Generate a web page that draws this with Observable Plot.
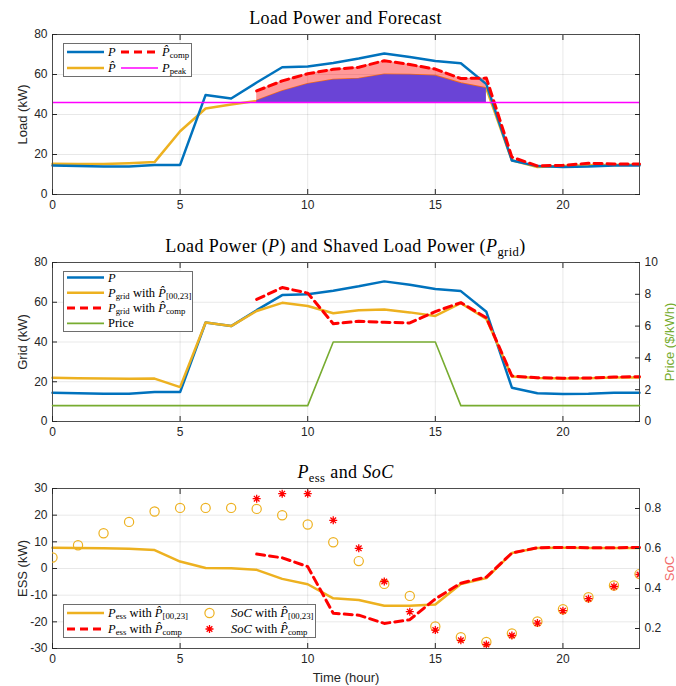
<!DOCTYPE html>
<html>
<head>
<meta charset="utf-8">
<script src="https://cdn.jsdelivr.net/npm/d3@7"></script>
<script src="https://cdn.jsdelivr.net/npm/@observablehq/plot@0.6"></script>
<style>
  body { margin: 0; background: #fff; }
  #root { position: relative; width: 676px; height: 686px; overflow: hidden; background: #fff; }
  .title { position: absolute; left: 52px; width: 587px; text-align: center; font-family: "Liberation Serif", "Times New Roman", serif; font-size: 18px; line-height: 18px; letter-spacing: 0.4px; color: #000; white-space: nowrap; }
  sub { font-size: 70%; vertical-align: -0.28em; line-height: 0; }
  .legend { position: absolute; background: #fff; border: 1px solid #6e6e6e; box-sizing: border-box; }
  .legend svg { position: absolute; left: 0; top: 0; overflow: visible; }
  .lt { position: absolute; font-family: "Liberation Serif", "Times New Roman", serif; font-size: 12.5px; line-height: 1; transform: translateY(-50%); white-space: nowrap; color: #000; }
  svg [aria-label="y-axis label"], svg [aria-label="x-axis label"] { font-size: 13px; }
  #price-axis [aria-label="y-axis label"] text { fill: #77AC30; }
  #soc-axis [aria-label="y-axis label"] text { fill: #F26B6B; }
</style>
</head>
<body>
<div id="root"></div>
<script>
// ---------------- data ----------------
const hours = [0,1,2,3,4,5,6,7,8,9,10,11,12,13,14,15,16,17,18,19,20,21,22,23];
const loadP = [14.5,14.2,14.0,14.0,14.8,14.8,49.8,48.0,56.0,63.6,64.0,65.8,68.0,70.5,68.8,66.7,65.6,55.2,17.0,14.2,13.8,14.0,14.5,14.5];
const loadForecast = [15.4,15.2,15.2,15.6,16.2,31.6,43.0,45.0,46.8,51.5,55.1,57.3,57.8,59.9,59.8,59.3,55.5,53.0,17.1,13.7,14.2,14.6,14.7,14.9];
const compHours = [8,9,10,11,12,13,14,15,16,17,18,19,20,21,22,23];
const loadComp = [51.8,56.8,60.4,62.6,63.6,66.9,65.0,62.7,58.0,58.2,18.7,14.3,14.6,15.6,15.3,15.3];
const peakPower = 46;
const shadeStart = 8, shadeEnd = 17;
const gridForecast = [22.0,21.8,21.6,21.5,21.6,17.3,49.8,48.0,55.6,59.7,58.1,54.5,56.0,56.4,54.9,53.1,59.5,51.6,22.7,21.9,21.6,21.7,22.2,22.1];
const gridComp = [61.4,67.4,64.6,49.2,50.4,49.9,49.6,55.3,59.8,52.2,22.9,22.0,21.8,21.9,22.4,22.5];
const price = [1,1,1,1,1,1,1,1,1,1,1,5,5,5,5,5,1,1,1,1,1,1,1,1];
const essForecast = [7.8,7.7,7.6,7.4,6.9,2.6,0.2,0.1,-0.5,-3.9,-5.9,-11.2,-11.8,-14.0,-14.0,-13.5,-5.8,-3.6,5.8,7.7,7.8,7.7,7.7,7.7];
const essComp = [5.4,4.0,0.7,-16.8,-17.5,-20.6,-19.2,-11.4,-5.5,-3.2,5.8,7.8,7.9,7.8,7.8,7.9];
const socForecast = [0.555,0.616,0.676,0.733,0.785,0.803,0.803,0.803,0.798,0.766,0.720,0.631,0.537,0.423,0.363,0.210,0.156,0.133,0.175,0.235,0.296,0.356,0.415,0.472];
const socComp = [0.849,0.874,0.874,0.741,0.601,0.435,0.284,0.192,0.141,0.120,0.165,0.227,0.289,0.349,0.410,0.470];

const xTicks = [0,5,10,15,20];
const loadTicks = [0,20,40,60,80];
const priceTicks = [0,2,4,6,8,10];
const essTicks = [-30,-20,-10,0,10,20,30];
const socTicks = [0.2,0.4,0.6,0.8];

// ---------------- tables ----------------
const rows = hours.map((h, i) => ({hour: h, load: loadP[i], forecast: loadForecast[i], grid: gridForecast[i], price: price[i], ess: essForecast[i], soc: socForecast[i]}));
const compRows = compHours.map((h, i) => ({hour: h, load: loadComp[i], grid: gridComp[i], ess: essComp[i], soc: socComp[i]}));
const shadeRows = compRows.filter(d => d.hour >= shadeStart && d.hour <= shadeEnd)
  .map(d => ({hour: d.hour, comp: d.load, forecast: loadForecast[hours.indexOf(d.hour)]}));

// ---------------- styling ----------------
const BLUE = "#0072BD", ORANGE = "#EDB120", RED = "#FF0000", MAGENTA = "#FF00FF", GREEN = "#77AC30";
const W = 676, ML = 52, MR = 37, MT = 10;
const root = document.getElementById("root");

// MATLAB-style '*' marker (plus and cross overlaid)
const starSymbol = {
  draw(ctx, size) {
    const r = Math.sqrt(size / Math.PI), s = r * Math.SQRT1_2;
    ctx.moveTo(-r, 0); ctx.lineTo(r, 0);
    ctx.moveTo(0, -r); ctx.lineTo(0, r);
    ctx.moveTo(-s, -s); ctx.lineTo(s, s);
    ctx.moveTo(-s, s); ctx.lineTo(s, -s);
  }
};

function common(height, mb) {
  return {
    width: W, height, marginLeft: ML, marginRight: MR, marginTop: MT, marginBottom: mb,
    style: {fontFamily: "'Liberation Sans', Arial, Helvetica, sans-serif", fontSize: "12px", color: "#262626", background: "transparent", overflow: "visible"}
  };
}
const gridStyle = {stroke: "#000", strokeOpacity: 0.09};
function xAxisMarks(label) {
  return [
    Plot.axisX(xTicks, {tickSize: -5, tickPadding: 11, label: label || null, labelAnchor: "center", labelOffset: 33, labelArrow: "none"}),
    Plot.axisX(xTicks, {anchor: "top", tickSize: -5, tickFormat: () => "", label: null})
  ];
}
function place(el, top, id) {
  el.style.position = "absolute";
  el.style.left = "0px";
  el.style.top = top + "px";
  if (id) el.id = id;
  root.appendChild(el);
}
function title(html, top) {
  const d = document.createElement("div");
  d.className = "title";
  d.style.top = top + "px";
  d.innerHTML = html;
  root.appendChild(d);
}

// ---------------- panel 1 ----------------
title("Load Power and Forecast", 9);
place(Plot.plot({
  ...common(200, 30),
  x: {domain: [0, 23]},
  y: {domain: [0, 80]},
  marks: [
    Plot.gridX(xTicks, gridStyle),
    Plot.gridY(loadTicks, gridStyle),
    Plot.lineY(rows, {x: "hour", y: "forecast", stroke: ORANGE, strokeWidth: 2.5}),
    Plot.areaY(shadeRows, {x: "hour", y1: peakPower, y2: "comp", fill: RED, fillOpacity: 0.4}),
    Plot.areaY(shadeRows, {x: "hour", y1: peakPower, y2: "forecast", fill: "#6a44d6"}),
    Plot.lineY(rows, {x: "hour", y: "load", stroke: BLUE, strokeWidth: 2.5}),
    Plot.lineY(compRows, {x: "hour", y: "load", stroke: RED, strokeWidth: 3, strokeDasharray: "8,5"}),
    Plot.ruleY([peakPower], {stroke: MAGENTA, strokeWidth: 1.5}),
    Plot.frame({stroke: "#4d4d4d"}),
    ...xAxisMarks(null),
    Plot.axisY(loadTicks, {tickSize: -5, tickPadding: 10, label: "Load (kW)", labelAnchor: "center", labelOffset: 35, labelArrow: "none"}),
    Plot.axisY(loadTicks, {anchor: "right", tickSize: -5, tickFormat: () => "", label: null})
  ]
}), 24);

// ---------------- panel 2 ----------------
title("Load Power (<i>P</i>) and Shaved Load Power (<i>P</i><sub>grid</sub>)", 237);
place(Plot.plot({
  ...common(199, 30),
  x: {domain: [0, 23]},
  y: {domain: [0, 80]},
  marks: [
    Plot.gridX(xTicks, gridStyle),
    Plot.gridY(loadTicks, gridStyle),
    Plot.lineY(rows, {x: "hour", y: "load", stroke: BLUE, strokeWidth: 2.5}),
    Plot.lineY(rows, {x: "hour", y: "grid", stroke: ORANGE, strokeWidth: 2.5}),
    Plot.lineY(compRows, {x: "hour", y: "grid", stroke: RED, strokeWidth: 3, strokeDasharray: "8,5"}),
    Plot.frame({stroke: "#4d4d4d"}),
    ...xAxisMarks(null),
    Plot.axisY(loadTicks, {tickSize: -5, tickPadding: 10, label: "Grid (kW)", labelAnchor: "center", labelOffset: 35, labelArrow: "none"})
  ]
}), 252);
place(Plot.plot({
  ...common(199, 30),
  x: {domain: [0, 23], axis: null},
  y: {domain: [0, 10]},
  marks: [
    Plot.lineY(rows, {x: "hour", y: "price", stroke: GREEN, strokeWidth: 1.6}),
    Plot.axisY(priceTicks, {anchor: "right", tickSize: -5, tickPadding: 10, label: "Price ($/kWh)", labelAnchor: "center", labelOffset: 34, labelArrow: "none"})
  ]
}), 252, "price-axis");

// ---------------- panel 3 ----------------
title("<i>P</i><sub>ess</sub> and <i>SoC</i>", 463);
place(Plot.plot({
  ...common(208, 38),
  x: {domain: [0, 23]},
  y: {domain: [-30, 30]},
  marks: [
    Plot.gridX(xTicks, gridStyle),
    Plot.gridY(essTicks, gridStyle),
    Plot.lineY(rows, {x: "hour", y: "ess", stroke: ORANGE, strokeWidth: 2.5}),
    Plot.lineY(compRows, {x: "hour", y: "ess", stroke: RED, strokeWidth: 3, strokeDasharray: "8,5"}),
    Plot.frame({stroke: "#4d4d4d"}),
    ...xAxisMarks("Time (hour)"),
    Plot.axisY(essTicks, {tickSize: -5, tickPadding: 10, tickFormat: d => String(d), label: "ESS (kW)", labelAnchor: "center", labelOffset: 35, labelArrow: "none"})
  ]
}), 478);
place(Plot.plot({
  ...common(208, 38),
  x: {domain: [0, 23], axis: null},
  y: {domain: [0.1, 0.9]},
  marks: [
    Plot.dot(rows, {x: "hour", y: "soc", r: 4.6, stroke: ORANGE, strokeWidth: 1.2, fill: "none", clip: true}),
    Plot.dot(compRows, {x: "hour", y: "soc", r: 4, symbol: starSymbol, stroke: RED, strokeWidth: 1.3, clip: true}),
    Plot.axisY(socTicks, {anchor: "right", tickSize: -5, tickPadding: 10, tickFormat: d => d.toFixed(1), label: "SoC", labelAnchor: "center", labelOffset: 34, labelArrow: "none"})
  ]
}), 478, "soc-axis");

// ---------------- legends ----------------
const PH = "<i>P\u0302</i>";
function legend(box, items) {
  const d = document.createElement("div");
  d.className = "legend";
  Object.assign(d.style, {left: box.left + "px", top: box.top + "px", width: box.width + "px", height: box.height + "px"});
  const ns = "http://www.w3.org/2000/svg";
  const svg = document.createElementNS(ns, "svg");
  svg.setAttribute("width", box.width);
  svg.setAttribute("height", box.height);
  for (const it of items) {
    if (it.kind === "line" || it.kind === "dash") {
      const l = document.createElementNS(ns, "line");
      l.setAttribute("x1", it.x0 - 1); l.setAttribute("x2", it.x1 - 1);
      l.setAttribute("y1", it.y - 1); l.setAttribute("y2", it.y - 1);
      l.setAttribute("stroke", it.color);
      l.setAttribute("stroke-width", it.w);
      if (it.kind === "dash") l.setAttribute("stroke-dasharray", "8,5");
      svg.appendChild(l);
    } else if (it.kind === "circle") {
      const c = document.createElementNS(ns, "circle");
      c.setAttribute("cx", it.x0 - 1); c.setAttribute("cy", it.y - 1); c.setAttribute("r", 4.6);
      c.setAttribute("fill", "none"); c.setAttribute("stroke", it.color); c.setAttribute("stroke-width", 1.2);
      svg.appendChild(c);
    } else if (it.kind === "star") {
      const p = document.createElementNS(ns, "path");
      p.setAttribute("d", d3.symbol(starSymbol, Math.PI * 4 * 4)());
      p.setAttribute("transform", `translate(${it.x0 - 1},${it.y - 1})`);
      p.setAttribute("fill", "none"); p.setAttribute("stroke", it.color); p.setAttribute("stroke-width", 1.3);
      svg.appendChild(p);
    }
    const t = document.createElement("div");
    t.className = "lt";
    t.style.left = (it.tx - 1) + "px";
    t.style.top = (it.y - 1) + "px";
    t.innerHTML = it.html;
    d.appendChild(t);
  }
  d.appendChild(svg);
  root.appendChild(d);
}

legend({left: 63, top: 43, width: 129, height: 34}, [
  {kind: "line", x0: 4, x1: 41, y: 9, color: BLUE, w: 2.5, tx: 45, html: "<i>P</i>"},
  {kind: "dash", x0: 58, x1: 95, y: 9, color: RED, w: 3, tx: 99, html: PH + "<sub>comp</sub>"},
  {kind: "line", x0: 4, x1: 41, y: 25, color: ORANGE, w: 2.5, tx: 45, html: PH},
  {kind: "line", x0: 58, x1: 95, y: 25, color: MAGENTA, w: 1.5, tx: 99, html: "<i>P</i><sub>peak</sub>"}
]);

legend({left: 63, top: 271, width: 130, height: 61}, [
  {kind: "line", x0: 4, x1: 41, y: 6.5, color: BLUE, w: 2.5, tx: 45, html: "<i>P</i>"},
  {kind: "line", x0: 4, x1: 41, y: 21.8, color: ORANGE, w: 2.5, tx: 45, html: "<i>P</i><sub>grid</sub> with " + PH + "<sub>[00,23]</sub>"},
  {kind: "dash", x0: 4, x1: 41, y: 37.1, color: RED, w: 3, tx: 45, html: "<i>P</i><sub>grid</sub> with " + PH + "<sub>comp</sub>"},
  {kind: "line", x0: 4, x1: 41, y: 52.4, color: GREEN, w: 1.6, tx: 45, html: "Price"}
]);

legend({left: 63, top: 604, width: 253, height: 34}, [
  {kind: "line", x0: 4, x1: 41, y: 9, color: ORANGE, w: 2.5, tx: 45, html: "<i>P</i><sub>ess</sub> with " + PH + "<sub>[00,23]</sub>"},
  {kind: "dash", x0: 4, x1: 41, y: 25, color: RED, w: 3, tx: 45, html: "<i>P</i><sub>ess</sub> with " + PH + "<sub>comp</sub>"},
  {kind: "circle", x0: 146.5, y: 9, color: ORANGE, tx: 168, html: "<i>SoC</i> with " + PH + "<sub>[00,23]</sub>"},
  {kind: "star", x0: 146.5, y: 25, color: RED, tx: 168, html: "<i>SoC</i> with " + PH + "<sub>comp</sub>"}
]);
</script>
</body>
</html>
